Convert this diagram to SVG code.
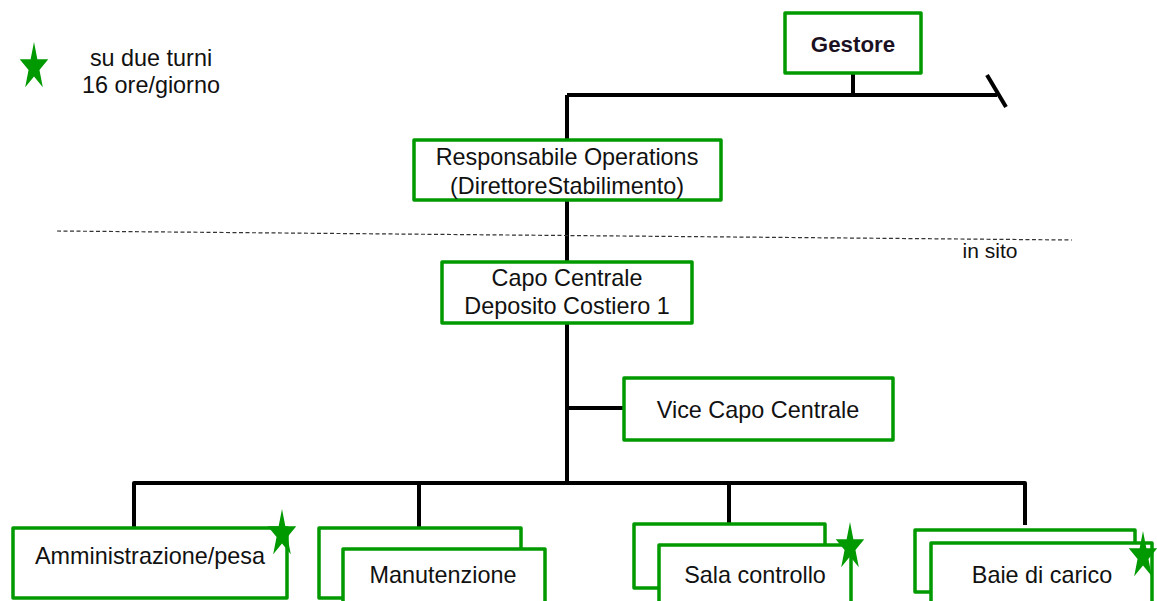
<svg xmlns="http://www.w3.org/2000/svg" width="1157" height="601" viewBox="0 0 1157 601">
<defs>
<style>
.box{fill:#fff;stroke:#009900;stroke-width:3.5;stroke-linejoin:round}
.t{font-family:"Liberation Sans",Arial,sans-serif;font-size:23.4px;fill:#111;text-anchor:middle}
.b{font-weight:bold;fill:#1b1122;font-size:22.3px}
.c{fill:none;stroke:#000;stroke-width:4;stroke-linejoin:round}
.star{fill:#009900}
</style>
<path id="star" d="M0,-25 L3.37,-7.73 L14.27,-7.73 L5.45,2.95 L8.82,20.23 L0,9.55 L-8.82,20.23 L-5.45,2.95 L-14.27,-7.73 L-3.37,-7.73 Z"/>
</defs>
<rect width="1157" height="601" fill="#fff"/>
<g id="connectors">
<path class="c" d="M853,73 V95 M567,95 H997 M567,95 V140 M567,200 V262 M567,323 V483 M567,408 H624"/>
<path class="c" d="M987,75 L1006,107"/>
<path class="c" d="M134,528 V483 H1025 V525 M419,483 V528 M729,483 V524"/>
<line x1="57" y1="231" x2="1072" y2="240" stroke="#333" stroke-width="1.2" stroke-dasharray="4 2.5"/>
</g>
<g id="legend">
<use href="#star" class="star" x="34" y="67"/>
<text class="t" x="151" y="66">su due turni</text>
<text class="t" x="151" y="93">16 ore/giorno</text>
</g>
<g id="insito"><text class="t" x="990" y="258" style="font-size:21px">in sito</text></g>
<g id="gestore"><rect class="box" x="785" y="13" width="136" height="60"/><text class="t b" x="853" y="52">Gestore</text></g>
<g id="responsabile"><rect class="box" x="414" y="140" width="307" height="60"/><text class="t" x="567" y="165">Responsabile Operations</text><text class="t" x="567" y="194">(DirettoreStabilimento)</text></g>
<g id="capo"><rect class="box" x="442" y="262" width="250" height="61"/><text class="t" x="567" y="286">Capo Centrale</text><text class="t" x="567" y="314">Deposito Costiero 1</text></g>
<g id="vice"><rect class="box" x="624" y="378" width="269" height="62"/><text class="t" x="758" y="418">Vice Capo Centrale</text></g>
<g id="amministrazione"><rect class="box" x="13" y="528" width="274" height="70"/><text class="t" x="150" y="564">Amministrazione/pesa</text><use href="#star" class="star" x="282" y="534"/></g>
<g id="manutenzione"><rect class="box" x="319" y="528" width="202" height="70"/><rect class="box" x="343" y="549" width="202" height="70"/><text class="t" x="443" y="583">Manutenzione</text></g>
<g id="sala"><rect class="box" x="634" y="524" width="191" height="64"/><rect class="box" x="659" y="545" width="192" height="70"/><text class="t" x="755" y="583">Sala controllo</text><use href="#star" class="star" x="850" y="547"/></g>
<g id="baie"><rect class="box" x="915" y="530" width="220" height="62"/><rect class="box" x="931" y="543" width="221" height="70"/><text class="t" x="1042" y="583">Baie di carico</text><use href="#star" class="star" x="1143" y="556"/></g>
</svg>
